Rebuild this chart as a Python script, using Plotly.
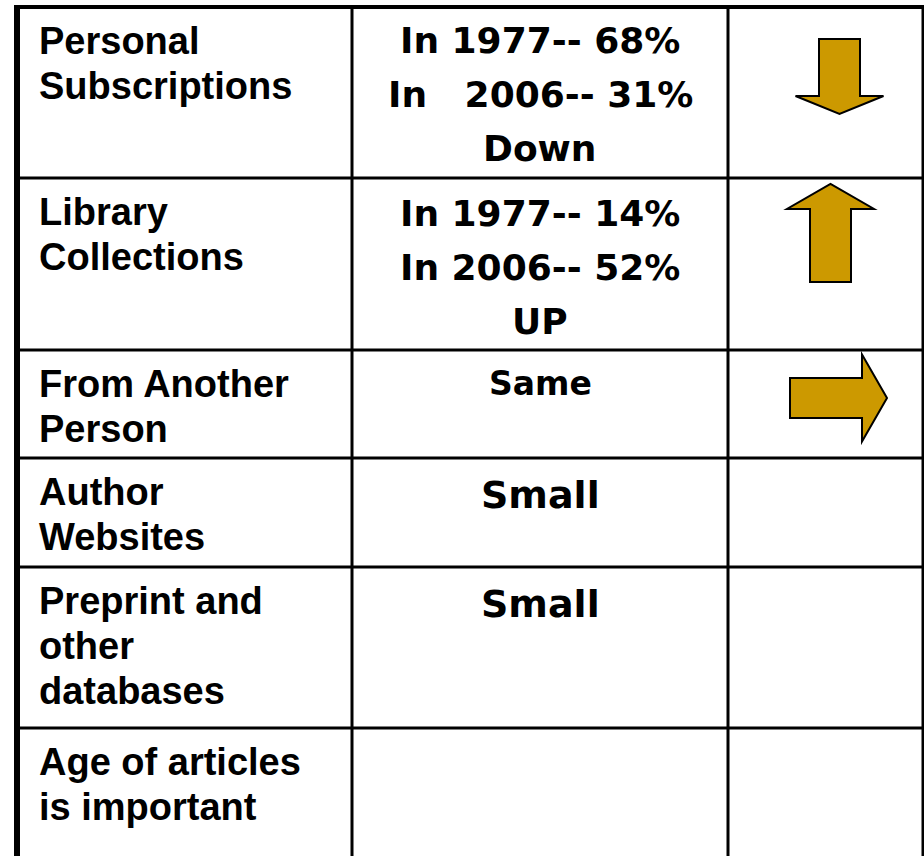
import plotly.graph_objects as go

# ---- data ----
row_labels = [
    "Personal\nSubscriptions",
    "Library\nCollections",
    "From Another\nPerson",
    "Author\nWebsites",
    "Preprint and\nother\ndatabases",
    "Age of articles\nis important",
]
trend_text = [
    "In 1977-- 68%\nIn\u00a0\u00a0\u00a02006-- 31%\nDown",
    "In 1977-- 14%\nIn 2006-- 52%\nUP",
    "Same",
    "Small",
    "Small",
    "",
]
trend_dir = ["down", "up", "right", None, None, None]

# ---- layout constants ----
W, H = 924, 856
col_x = [17, 352, 728, 923]
row_y = [7, 178, 350, 458, 567, 728, 900]
left_pad = 37
left_first = 33.5
left_step = 45
mid_first = [33.5, 35.5, 33.5, 36.5, 37.0, 35]
mid_step = 54
mid_size = {"Same": 33, "Small": 38}
arrow_fill = "#CC9900"

fig = go.Figure()
shapes = []
annotations = []

# grid lines
for i, x in enumerate(col_x):
    w = 6 if i == 0 else 3
    shapes.append(dict(type="line", xref="x", yref="y", x0=x, x1=x, y0=row_y[0], y1=row_y[-1],
                       line=dict(color="black", width=w)))
for i, y in enumerate(row_y[:-1]):
    w = 4 if i == 0 else 3
    shapes.append(dict(type="line", xref="x", yref="y", x0=col_x[0] - 3, x1=col_x[-1] + 2, y0=y, y1=y,
                       line=dict(color="black", width=w)))

# text
mid_cx = (col_x[1] + col_x[2]) / 2
for r, (lab, mt) in enumerate(zip(row_labels, trend_text)):
    top = row_y[r]
    for i, line in enumerate(lab.split("\n")):
        annotations.append(dict(x=left_pad, y=top + left_first + i * left_step, xref="x", yref="y",
                                text=line, showarrow=False, xanchor="left", yanchor="middle",
                                font=dict(family="Liberation Sans", size=38, color="black", weight="bold")))
    if mt:
        for i, line in enumerate(mt.split("\n")):
            annotations.append(dict(x=mid_cx, y=top + mid_first[r] + i * mid_step, xref="x", yref="y",
                                    text=line, showarrow=False, xanchor="center", yanchor="middle",
                                    font=dict(family="DejaVu Sans", size=mid_size.get(line, 36),
                                              color="black", weight="bold")))

# arrows
arrow_geom = {
    # direction: (tail, tip, cross-center, shaft half-width, head half-width, head length)
    "down": (39, 114, 839.5, 20.5, 44, 18),
    "up": (282, 184, 830.5, 20.5, 43.5, 25),
    "right": (790, 887, 398, 20, 43.5, 25),
}
for d in trend_dir:
    if d is None:
        continue
    tail, tip, c, sw, hw, hl = arrow_geom[d]
    sgn = 1 if tip > tail else -1
    hb = tip - sgn * hl
    pts = [(tail, c - sw), (hb, c - sw), (hb, c - hw), (tip, c), (hb, c + hw), (hb, c + sw), (tail, c + sw)]
    if d in ("down", "up"):
        pts = [(b, a) for a, b in pts]
    path = "M " + " L ".join(f"{x},{y}" for x, y in pts) + " Z"
    shapes.append(dict(type="path", xref="x", yref="y", path=path, fillcolor=arrow_fill,
                       line=dict(color="black", width=2)))

fig.update_layout(
    width=W, height=H, margin=dict(l=0, r=0, t=0, b=0),
    paper_bgcolor="white", plot_bgcolor="white",
    xaxis=dict(range=[0, W], visible=False, fixedrange=True),
    yaxis=dict(range=[H, 0], visible=False, fixedrange=True),
    shapes=shapes, annotations=annotations, showlegend=False,
)
fig.write_html("out.html", config={"displayModeBar": False},
               post_script="document.body.style.margin='0';document.body.style.overflow='hidden';")
